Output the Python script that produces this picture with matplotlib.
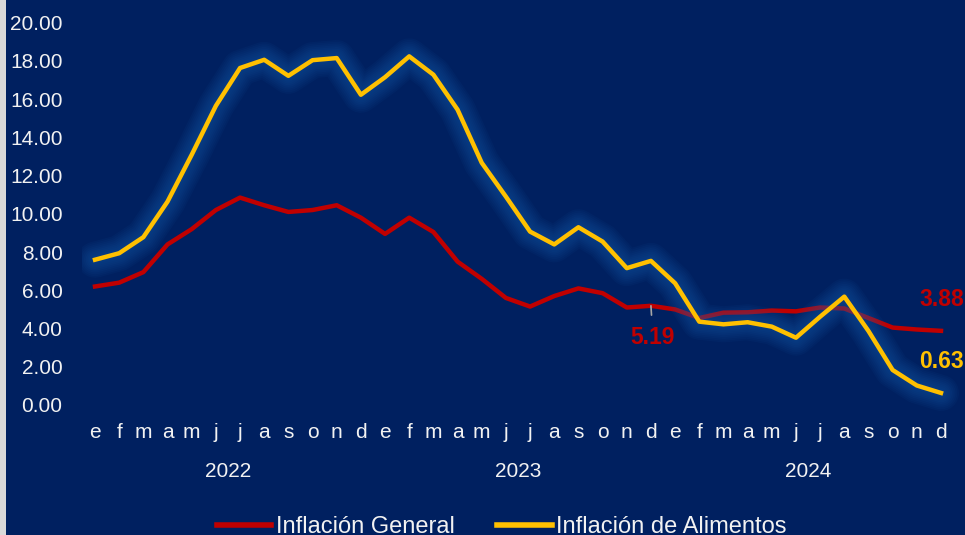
import numpy as np
import matplotlib
matplotlib.use('Agg')
import matplotlib.pyplot as plt
from matplotlib.patches import Rectangle

plt.rcParams['font.family'] = ['Liberation Sans', 'DejaVu Sans']

# datos mensuales 2022-2024
meses = ['e', 'f', 'm', 'a', 'm', 'j', 'j', 'a', 's', 'o', 'n', 'd'] * 3
anios = ['2022', '2023', '2024']
general = [6.2, 6.4, 6.95, 8.4, 9.2, 10.2, 10.85, 10.45, 10.1, 10.2, 10.45, 9.8,
           8.95, 9.8, 9.05, 7.5, 6.6, 5.6, 5.15, 5.7, 6.1, 5.85, 5.1, 5.19,
           5.0, 4.55, 4.83, 4.85, 4.94, 4.9, 5.1, 5.05, 4.55, 4.05, 3.95, 3.88]
alimentos = [7.6, 7.94, 8.78, 10.64, 13.09, 15.65, 17.63, 18.06, 17.22, 18.04, 18.15, 16.23,
             17.15, 18.24, 17.28, 15.45, 12.67, 10.9, 9.07, 8.4, 9.3, 8.55, 7.16, 7.54,
             6.37, 4.36, 4.22, 4.33, 4.1, 3.52, 4.62, 5.67, 3.87, 1.83, 1.02, 0.63]

fondo = '#002060'
rojo = '#C00000'
amarillo = '#FFC000'

fig = plt.figure(figsize=(9.65, 5.35), dpi=100)
fig.patch.set_facecolor(fondo)
fig.patches.append(Rectangle((0, 0), 6 / 965, 1, transform=fig.transFigure,
                             facecolor='#d9d9d9', edgecolor='none'))

ax = fig.add_axes([82 / 965, 1 - 420 / 535, 1 - 82 / 965, (420 - 5) / 535])
ax.set_facecolor(fondo)
x = np.arange(len(meses))

ax.plot(x, general, color=rojo, lw=3.2, zorder=2, label='Inflación General')
# brillo alrededor de la linea amarilla
for lw in np.linspace(26, 6, 9):
    ax.plot(x, alimentos, color='#1560b0', lw=lw, alpha=0.065,
            solid_capstyle='round', solid_joinstyle='round', zorder=3)
ax.plot(x, alimentos, color=amarillo, lw=3.2, zorder=4, label='Inflación de Alimentos')

ax.set_xlim(-13 / 24.17, 35 + 24 / 24.17)
ax.set_ylim(-15 / 19.115, 400 / 19.115)
ax.set_yticks(np.arange(0, 21, 2))
ax.set_yticklabels([f'{v:.2f}' for v in np.arange(0, 21, 2)])
ax.tick_params(axis='y', length=0, pad=14, labelsize=15, labelcolor='#f2f2f2')
ax.set_xticks([])
for s in ax.spines.values():
    s.set_visible(False)

tr = ax.get_xaxis_transform()
ybase_mes = (1 - 438 / 535 - ax.get_position().y0) / ax.get_position().height
ybase_anio = (1 - 477 / 535 - ax.get_position().y0) / ax.get_position().height
for i, m in enumerate(meses):
    ax.text(i, ybase_mes, m, transform=tr, ha='center', va='baseline',
            fontsize=15, color='#f2f2f2', clip_on=False)
for k, a in enumerate(anios):
    ax.text(12 * k + 5.5, ybase_anio, a, transform=tr, ha='center', va='baseline',
            fontsize=15, color='#f2f2f2', clip_on=False)

# etiquetas de datos
ax.annotate(f'{general[23]:.2f}', xy=(23, general[23]), xytext=(1.4, -23),
            textcoords='offset points', ha='center', va='center',
            fontsize=16.5, fontweight='bold', color=rojo, zorder=6,
            arrowprops=dict(arrowstyle='-', color='#a6a6a6', lw=1.2,
                            shrinkA=6, shrinkB=0))
ax.annotate(f'{general[-1]:.2f}', xy=(35, general[-1]), xytext=(-15.8, 22.7),
            textcoords='offset points', ha='left', va='center',
            fontsize=16.5, fontweight='bold', color=rojo, annotation_clip=False)
ax.annotate(f'{alimentos[-1]:.2f}', xy=(35, alimentos[-1]), xytext=(-15.8, 22.5),
            textcoords='offset points', ha='left', va='center',
            fontsize=16.5, fontweight='bold', color=amarillo, annotation_clip=False)

leg = fig.legend(loc='center', bbox_to_anchor=(502 / 965, 1 - 527 / 535), ncol=2,
                 frameon=False, fontsize=17, handlelength=2.3, handletextpad=0.2,
                 columnspacing=1.8, labelcolor='#f2f2f2')
for h in leg.get_lines():
    h.set_linewidth(4)

fig.savefig('out.png', dpi=100, facecolor=fondo)
